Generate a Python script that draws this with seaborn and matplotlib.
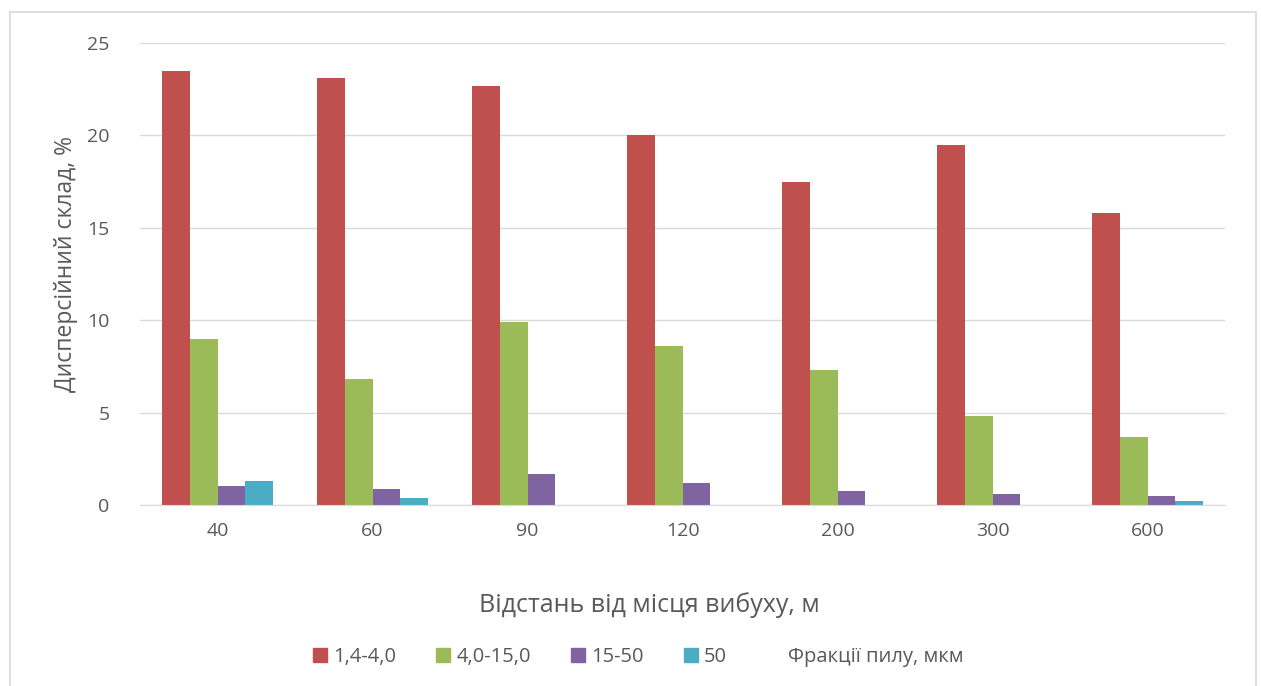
import pandas as pd
import matplotlib.pyplot as plt
import matplotlib.patches as mpatches
import seaborn as sns

sns.set_style("white")
plt.rcParams['font.family'] = ['Open Sans', 'DejaVu Sans']

# distances from the blast point, m
distances = ['40', '60', '90', '120', '200', '300', '600']
# dust fractions, um
fractions = ['1,4-4,0', '4,0-15,0', '15-50', '50']

frac_14_40 = [23.5, 23.1, 22.7, 20.0, 17.5, 19.5, 15.8]
frac_40_150 = [9.0, 6.8, 9.9, 8.6, 7.3, 4.8, 3.7]
frac_15_50 = [1.05, 0.87, 1.7, 1.2, 0.78, 0.6, 0.5]
frac_50 = [1.3, 0.38, 0.0, 0.02, 0.0, 0.0, 0.2]

colors = ['#C0504D', '#9BBB59', '#8064A2', '#4BACC6']
text_gray = '#595959'

# long format table for seaborn
rows = []
for name, vals in zip(fractions, [frac_14_40, frac_40_150, frac_15_50, frac_50]):
    for d, v in zip(distances, vals):
        rows.append({'distance': d, 'fraction': name, 'value': v})
df = pd.DataFrame(rows)

fig = plt.figure(figsize=(12.61, 6.86), dpi=100)
ax = fig.add_axes([140 / 1261, 1 - 505 / 686, 1085 / 1261, (505 - 43) / 686])

sns.barplot(data=df, x='distance', y='value', hue='fraction', order=distances,
            hue_order=fractions, palette=colors, width=0.72, saturation=1,
            linewidth=0, legend=False, ax=ax)

ax.set_xlim(-0.5, 6.5)
ax.set_ylim(0, 25)
ax.set_yticks([0, 5, 10, 15, 20, 25])
ax.yaxis.grid(True, color='#D9D9D9', linewidth=1)
ax.set_axisbelow(True)
for side in ['top', 'right', 'left']:
    ax.spines[side].set_visible(False)
ax.spines['bottom'].set_color('#D9D9D9')
ax.tick_params(axis='both', length=0, labelsize=14, colors=text_gray, pad=12)
ax.tick_params(axis='y', pad=22)

ax.set_xlabel('Відстань від місця вибуху, м', fontsize=18, color=text_gray)
ax.set_ylabel('Дисперсійний склад, %', fontsize=16.5, color=text_gray)
ax.xaxis.set_label_coords((649 - 140) / 1085, -(605 - 505) / 462)
ax.yaxis.set_label_coords(-(140 - 66) / 1085, (505 - 264) / 462)
ax.xaxis.label.set_va('center')
ax.yaxis.label.set_va('center')

# legend with the title written after the entries
handles = [mpatches.Patch(color=c, label=f) for c, f in zip(colors, fractions)]
handles.append(mpatches.Patch(color='none', label='Фракції пилу, мкм'))
leg = fig.legend(handles=handles, loc='center', bbox_to_anchor=(638 / 1261, 1 - 657 / 686),
                 ncol=5, frameon=False, fontsize=14.5, handlelength=0.7, handleheight=0.7,
                 handletextpad=0.3, columnspacing=2.0)
for t in leg.get_texts():
    t.set_color(text_gray)

# thin outer frame like the chart area
fig.patches.append(mpatches.Rectangle((10 / 1261, -0.01), 1246 / 1261, 1 - 12 / 686 + 0.01,
                                      transform=fig.transFigure, fill=False,
                                      edgecolor='#D9D9D9', linewidth=1.2))

fig.savefig('out.png', dpi=100)
